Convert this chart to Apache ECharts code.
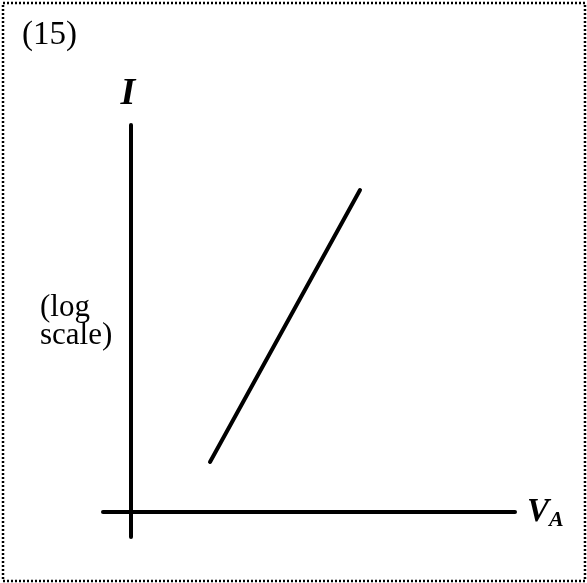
<!DOCTYPE html>
<html lang="en">

<head>
    <meta charset="UTF-8">
    <title>Figure 15</title>
    <style>
        * {
            margin: 0;
            padding: 0;
        }

        #main {
            width: 587px;
            height: 583px;
            background: #fff;
        }
    </style>
</head>

<body>
    <div id="main"></div>
</body>
<script src="https://cdn.jsdelivr.net/npm/echarts@6/dist/echarts.min.js"></script>
<script>
    // anode voltage (arbitrary units) and log10 of current
    let voltage = [0.79, 2.29];
    let logCurrent = [0.50, 3.22];
    let xRange = [-0.28, 3.84];
    let yRange = [-0.25, 3.87];

    let serif = 'Liberation Serif';
    let points = voltage.map((v, i) => [v, logCurrent[i]]);

    let option = {
        animation: false,
        grid: {
            left: 103,
            right: 72,
            top: 125,
            bottom: 46
        },
        xAxis: {
            type: 'value',
            min: xRange[0],
            max: xRange[1],
            axisLine: { onZero: true, lineStyle: { color: '#000', width: 4 } },
            axisTick: { show: false },
            axisLabel: { show: false },
            splitLine: { show: false },
            name: '{v|V}{a|A}',
            nameLocation: 'end',
            nameGap: 12,
            nameTextStyle: {
                rich: {
                    v: {
                        fontFamily: serif,
                        fontStyle: 'italic',
                        fontWeight: 'bold',
                        fontSize: 33,
                        color: '#000'
                    },
                    a: {
                        fontFamily: serif,
                        fontStyle: 'italic',
                        fontWeight: 'bold',
                        fontSize: 22,
                        color: '#000',
                        padding: [16, 0, 0, 0]
                    }
                }
            }
        },
        yAxis: {
            type: 'value',
            min: yRange[0],
            max: yRange[1],
            axisLine: { onZero: true, lineStyle: { color: '#000', width: 4 } },
            axisTick: { show: false },
            axisLabel: { show: false },
            splitLine: { show: false },
            name: 'I',
            nameLocation: 'end',
            nameGap: 12,
            nameTextStyle: {
                fontFamily: serif,
                fontStyle: 'italic',
                fontWeight: 'bold',
                fontSize: 38,
                color: '#000',
                padding: [0, 6, 0, 0]
            }
        },
        graphic: [
            {
                type: 'rect',
                shape: { x: 3, y: 3, width: 582, height: 578 },
                style: { fill: 'none', stroke: '#000', lineWidth: 2.5, lineDash: [2, 2] },
                silent: true
            },
            {
                type: 'text',
                left: 22,
                top: 19,
                style: { text: '(15)', font: '33px "Liberation Serif"', fill: '#000' }
            },
            {
                type: 'text',
                left: 40,
                top: 292,
                style: {
                    text: '(log\nscale)',
                    font: '31px "Liberation Serif"',
                    lineHeight: 28,
                    fill: '#000'
                }
            }
        ],
        series: [
            {
                type: 'line',
                data: points,
                symbol: 'none',
                lineStyle: { color: '#000', width: 4, cap: 'round' }
            }
        ]
    };

    let myChart = echarts.init(document.getElementById('main'));
    myChart.setOption(option);
</script>

</html>
